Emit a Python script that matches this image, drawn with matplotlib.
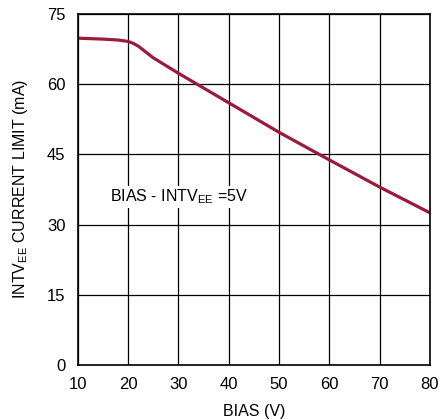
import matplotlib
matplotlib.use("Agg")
import matplotlib.pyplot as plt

bias = [10, 15, 18, 20, 21, 22, 25, 30, 40, 50, 60, 70, 80]
current = [69.8, 69.6, 69.4, 69.1, 68.7, 68.1, 65.6, 62.3, 56.0, 49.7, 43.8, 38.0, 32.5]

x_ticks = [10, 20, 30, 40, 50, 60, 70, 80]
y_ticks = [0, 15, 30, 45, 60, 75]

plt.rcParams['font.family'] = ['Liberation Sans Narrow', 'Liberation Sans', 'DejaVu Sans']

fig = plt.figure(figsize=(4.4, 4.19), dpi=100)
ax = fig.add_axes([0.177, 0.129, 0.800, 0.838])

ax.plot(bias, current, color="#9b1b3a", linewidth=2.3, solid_capstyle="butt")

ax.set_xlim(10, 80)
ax.set_ylim(0, 75)
ax.set_xticks(x_ticks)
ax.set_yticks(y_ticks)
ax.grid(True, color="black", linewidth=0.9)
ax.set_axisbelow(True)
for s in ax.spines.values():
    s.set_linewidth(1.2)
ax.tick_params(axis="y", length=0, labelsize=12, pad=9)
ax.tick_params(axis="x", length=0, labelsize=12, pad=9)

ax.text(16.4, 35.9, "BIAS - INTV$_{\\mathregular{EE}}$ =5V", fontsize=11.5, va="center",
        bbox=dict(facecolor="white", edgecolor="none", pad=1))

ax.set_xlabel("BIAS (V)", fontsize=11.5, labelpad=8)
ax.set_ylabel("INTV$_{\\mathregular{EE}}$ CURRENT LIMIT (mA)", fontsize=11.5, labelpad=12)

fig.savefig("out.png", dpi=100)
